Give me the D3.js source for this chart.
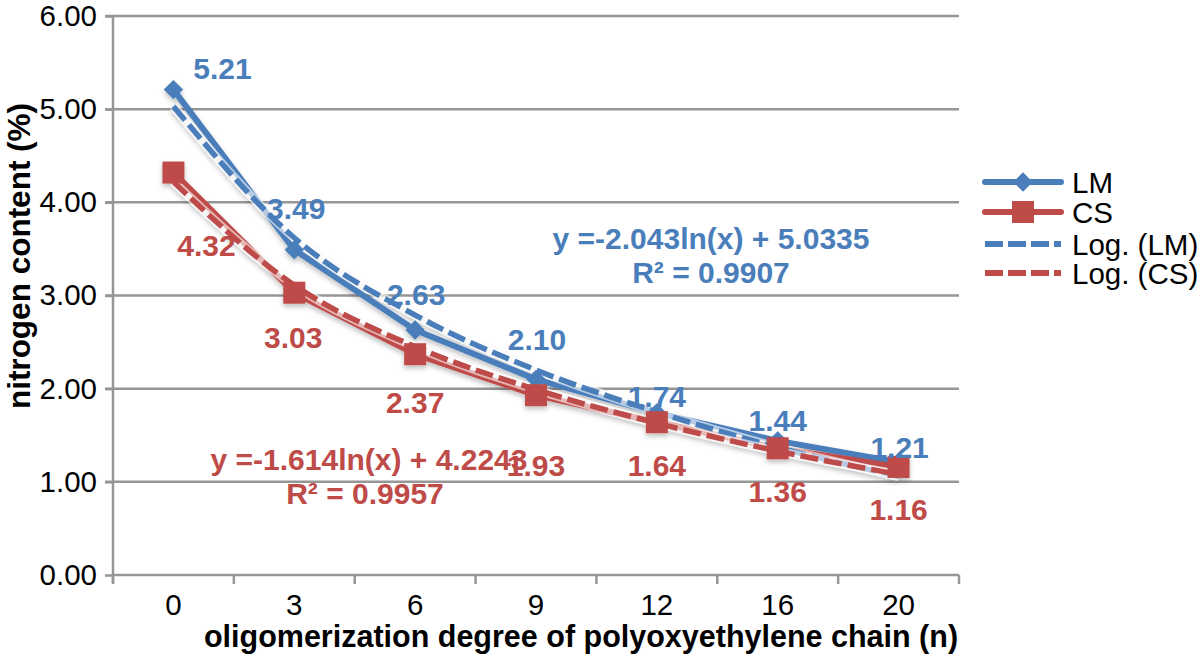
<!DOCTYPE html>
<html><head><meta charset="utf-8">
<script src="https://cdn.jsdelivr.net/npm/d3@7"></script>
<style>
html,body{margin:0;padding:0;background:#fff;}
svg{display:block;font-family:"Liberation Sans",Arial,Helvetica,sans-serif;}
</style></head>
<body>
<svg id="chart" width="1200" height="664"></svg>
<script>
// ---- data ----
const categories = ["0","3","6","9","12","16","20"];
const lmValues = [5.21, 3.49, 2.63, 2.10, 1.74, 1.44, 1.21];
const csValues = [4.32, 3.03, 2.37, 1.93, 1.64, 1.36, 1.16];
// logarithmic trendlines (values at each category)
const lmTrend = [5.03, 3.62, 2.79, 2.20, 1.75, 1.37, 1.06];
const csTrend = [4.22, 3.11, 2.45, 1.99, 1.63, 1.33, 1.08];
const yTicks = [0, 1, 2, 3, 4, 5, 6];
const seriesNames = ["LM", "CS", "Log. (LM)", "Log. (CS)"];
const lmEquation = ["y =-2.043ln(x) + 5.0335", "R² = 0.9907"];
const csEquation = ["y =-1.614ln(x) + 4.2243", "R² = 0.9957"];

const blue = "#4a7ebb", red = "#be4b48", grid = "#969696";
const svg = d3.select("#chart");
const pL = 113, pR = 959, pT = 16, pB = 575;

const defs = svg.append("defs");
defs.append("filter").attr("id", "shadow").attr("x", "-10%").attr("y", "-10%").attr("width", "120%").attr("height", "130%")
  .append("feDropShadow").attr("dx", 0).attr("dy", 3).attr("stdDeviation", 2.5)
  .attr("flood-color", "#000").attr("flood-opacity", 0.25);

const x = d3.scaleBand().domain(categories).range([pL, pR]);
const cx = d => x(d) + x.bandwidth() / 2;
const y = d3.scaleLinear().domain([0, 6]).range([pB, pT]);

// gridlines
svg.append("g").selectAll("line").data(yTicks.filter(t => t > 0)).join("line")
  .attr("x1", pL - 8).attr("x2", pR).attr("y1", d => y(d)).attr("y2", d => y(d))
  .attr("stroke", grid).attr("stroke-width", 2.5);

// y axis
const yAxis = svg.append("g").attr("transform", `translate(${pL},0)`)
  .call(d3.axisLeft(y).tickValues(yTicks).tickFormat(d3.format(".2f")).tickSize(8).tickPadding(8));
yAxis.select(".domain").attr("stroke", grid).attr("stroke-width", 2.5).attr("d", `M0,${pT}V${pB + 8}`);
yAxis.selectAll(".tick line").attr("stroke", grid).attr("stroke-width", 2.5);
yAxis.selectAll(".tick text").attr("font-size", 29.5).attr("fill", "#000")
  .attr("font-family", "Liberation Sans, Arial, sans-serif");

// x axis
const xAxis = svg.append("g").attr("transform", `translate(0,${pB})`)
  .call(d3.axisBottom(x).tickSize(0).tickPadding(19));
xAxis.select(".domain").attr("stroke", grid).attr("stroke-width", 2.5).attr("d", `M${pL},0H${pR}`);
xAxis.selectAll(".tick text").attr("font-size", 29.5).attr("fill", "#000")
  .attr("font-family", "Liberation Sans, Arial, sans-serif");
// category boundary ticks
const bounds = categories.map(c => x(c)).concat([pR]);
svg.append("g").selectAll("line").data(bounds).join("line")
  .attr("x1", d => d).attr("x2", d => d).attr("y1", pB).attr("y2", pB + 9)
  .attr("stroke", grid).attr("stroke-width", 2.5);

// axis titles
svg.append("text").attr("transform", `translate(30,256) rotate(-90)`)
  .attr("text-anchor", "middle")
  .attr("font-size", 31.5).attr("font-weight", "bold").text("nitrogen content (%)");
svg.append("text").attr("x", 581).attr("y", 636).attr("text-anchor", "middle")
  .attr("dominant-baseline", "central")
  .attr("font-size", 30.5).attr("font-weight", "bold")
  .text("oligomerization degree of polyoxyethylene chain (n)");

// lines
const line = d3.line().x((d, i) => cx(categories[i])).y(d => y(d));
const curve = d3.line().x((d, i) => cx(categories[i])).y(d => y(d)).curve(d3.curveMonotoneX);

const plot = svg.append("g").attr("filter", "url(#shadow)");
plot.append("path").datum(lmValues).attr("d", line).attr("fill", "none")
  .attr("stroke", blue).attr("stroke-width", 6).attr("stroke-linejoin", "round");
plot.append("path").datum(csValues).attr("d", line).attr("fill", "none")
  .attr("stroke", red).attr("stroke-width", 6).attr("stroke-linejoin", "round");

// trendlines
plot.append("path").datum(lmTrend).attr("d", curve).attr("fill", "none")
  .attr("stroke", "#fff").attr("stroke-width", 9).attr("opacity", 0.6);
plot.append("path").datum(lmTrend).attr("d", curve).attr("fill", "none")
  .attr("stroke", blue).attr("stroke-width", 5.5).attr("stroke-dasharray", "18,6");
plot.append("path").datum(csTrend).attr("d", curve).attr("fill", "none")
  .attr("stroke", "#fff").attr("stroke-width", 9).attr("opacity", 0.6);
plot.append("path").datum(csTrend).attr("d", curve).attr("fill", "none")
  .attr("stroke", red).attr("stroke-width", 5.5).attr("stroke-dasharray", "18,6");

// markers
plot.append("g").selectAll("path").data(lmValues).join("path")
  .attr("transform", (d, i) => `translate(${cx(categories[i])},${y(d)})`)
  .attr("d", d3.symbol(d3.symbolDiamond2, 240)).attr("fill", blue);
plot.append("g").selectAll("rect").data(csValues).join("rect")
  .attr("x", (d, i) => cx(categories[i]) - 11).attr("y", d => y(d) - 11)
  .attr("width", 22).attr("height", 22).attr("fill", red);

// data labels
const lmLabelOff = [[49, -21], [2, -41], [1, -35], [1, -40], [0, -16], [0, -20], [1, -15]];
const csLabelOff = [[33, 73], [-1, 45], [0, 48], [0, 70], [0, 43], [0, 43], [0, 43]];
svg.append("g").selectAll("text").data(lmValues).join("text")
  .attr("x", (d, i) => cx(categories[i]) + lmLabelOff[i][0])
  .attr("y", (d, i) => y(d) + lmLabelOff[i][1])
  .attr("text-anchor", "middle").attr("dominant-baseline", "central")
  .attr("font-size", 30).attr("font-weight", "bold").attr("fill", blue)
  .text(d => d.toFixed(2));
svg.append("g").selectAll("text").data(csValues).join("text")
  .attr("x", (d, i) => cx(categories[i]) + csLabelOff[i][0])
  .attr("y", (d, i) => y(d) + csLabelOff[i][1])
  .attr("text-anchor", "middle").attr("dominant-baseline", "central")
  .attr("font-size", 30).attr("font-weight", "bold").attr("fill", red)
  .text(d => d.toFixed(2));

// equations
svg.append("g").selectAll("text").data(lmEquation).join("text")
  .attr("x", 711).attr("y", (d, i) => 238 + i * 34)
  .attr("text-anchor", "middle").attr("dominant-baseline", "central")
  .attr("font-size", 30).attr("font-weight", "bold").attr("fill", blue).text(d => d);
svg.append("g").selectAll("text").data(csEquation).join("text")
  .attr("x", (d, i) => i === 0 ? 369 : 365).attr("y", (d, i) => 459 + i * 34)
  .attr("text-anchor", "middle").attr("dominant-baseline", "central")
  .attr("font-size", 30).attr("font-weight", "bold").attr("fill", red).text(d => d);

// legend
const lg = svg.append("g");
const ly = [182, 212, 244, 273];
seriesNames.forEach((name, i) => {
  const col = (i % 2 === 0) ? blue : red;
  const gy = ly[i];
  if (i < 2) {
    lg.append("line").attr("x1", 985).attr("x2", 1061).attr("y1", gy).attr("y2", gy)
      .attr("stroke", col).attr("stroke-width", 6).attr("stroke-linecap", "round");
    if (i === 0) lg.append("path").attr("transform", `translate(1023,${gy})`)
      .attr("d", d3.symbol(d3.symbolDiamond2, 240)).attr("fill", col);
    else lg.append("rect").attr("x", 1012).attr("y", gy - 11).attr("width", 22).attr("height", 22).attr("fill", col);
  } else {
    lg.append("line").attr("x1", 985).attr("x2", 1061).attr("y1", gy).attr("y2", gy)
      .attr("stroke", col).attr("stroke-width", 6).attr("stroke-dasharray", "18,5");
  }
  lg.append("text").attr("x", 1072).attr("y", gy + 10.5)
    .attr("font-size", 29.5).attr("fill", "#000").text(name);
});
</script>
</body></html>
